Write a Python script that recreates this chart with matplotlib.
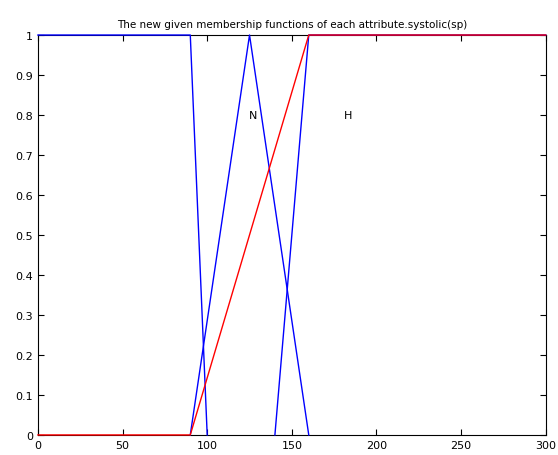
import matplotlib.pyplot as plt

# membership functions for systolic (sp)
low_x = [0, 90, 100]
low_y = [1, 1, 0]

normal_x = [90, 125, 160]
normal_y = [0, 1, 0]

high_x = [140, 160, 300]
high_y = [0, 1, 1]

red_x = [0, 90, 160, 300]
red_y = [0, 0, 1, 1]

labels = ["N", "H"]
label_x = [127, 183]
label_y = [0.8, 0.8]

xticks = [0, 50, 100, 150, 200, 250, 300]
yticks = [0, 0.1, 0.2, 0.3, 0.4, 0.5, 0.6, 0.7, 0.8, 0.9, 1]

fig = plt.figure(figsize=(5.58, 4.56), dpi=100)
ax = fig.add_axes([0.068, 0.044, 0.91, 0.877])

ax.plot(low_x, low_y, color="blue", linewidth=1, clip_on=False)
ax.plot(normal_x, normal_y, color="blue", linewidth=1, clip_on=False)
ax.plot(high_x, high_y, color="blue", linewidth=1, clip_on=False)
ax.plot(red_x, red_y, color="red", linewidth=1, clip_on=False)

for t, x, y in zip(labels, label_x, label_y):
    ax.text(x, y, t, fontsize=8, ha="center", va="center")

ax.set_xlim(0, 300)
ax.set_ylim(0, 1)
ax.set_xticks(xticks)
ax.set_yticks(yticks)
ax.set_yticklabels(["0", "0.1", "0.2", "0.3", "0.4", "0.5", "0.6", "0.7", "0.8", "0.9", "1"])
ax.tick_params(direction="in", top=True, right=True, labelsize=8, length=4)
for s in ax.spines.values():
    s.set_linewidth(0.8)
    s.set_zorder(1)

ax.set_title("The new given membership functions of each attribute.systolic(sp)",
             fontsize=7.5, pad=6)

fig.savefig("out.png", dpi=100)
